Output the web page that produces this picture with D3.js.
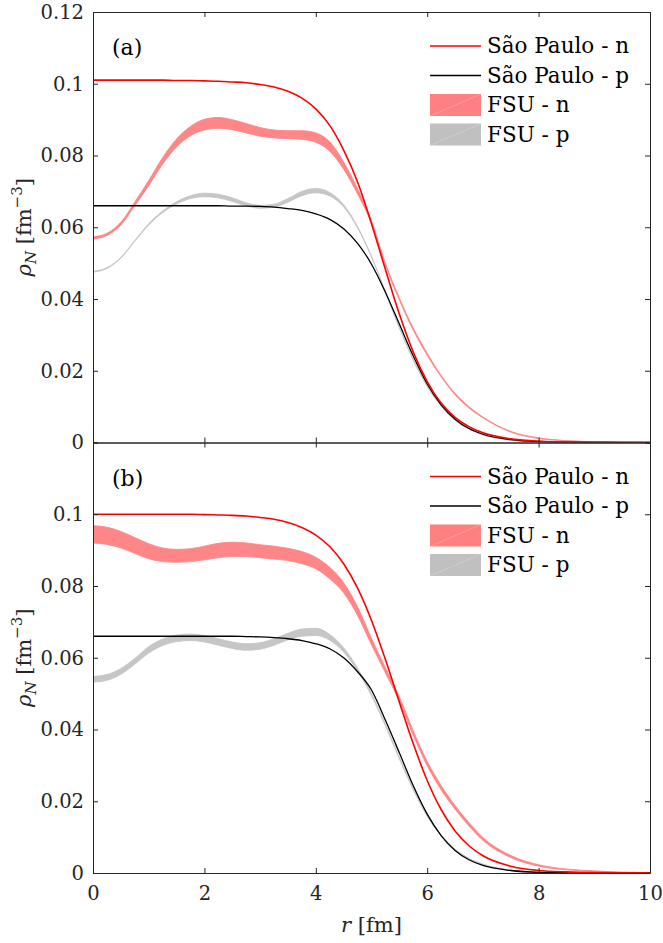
<!DOCTYPE html>
<html>
<head>
<meta charset="utf-8">
<script src="https://cdn.jsdelivr.net/npm/d3@7"></script>
<style>
  html, body { margin: 0; padding: 0; background: #fff; }
  svg { display: block; }
  svg text { font-family: 'DejaVu Serif'; }
</style>
</head>
<body>
<svg id="chart" width="663" height="943"></svg>
<script>
// radial grid (fm), shared by every series
var radii = [0, 0.25, 0.5, 0.75, 1, 1.25, 1.5, 1.75, 2, 2.25, 2.5, 2.75, 3, 3.25, 3.5, 3.75,
  4, 4.25, 4.5, 4.75, 5, 5.25, 5.5, 5.75, 6, 6.25, 6.5, 6.75, 7, 7.5, 8, 8.5, 9, 9.5, 10];

// panel (a)
var spNA = [0.1010, 0.1010, 0.1010, 0.1010, 0.1010, 0.1010, 0.1009, 0.1009, 0.1008, 0.1007, 0.1005, 0.1003,
  0.0998, 0.0991, 0.0979, 0.0960, 0.0930, 0.0884, 0.0815, 0.0726, 0.0610, 0.0482, 0.0358, 0.0252,
  0.0170, 0.0110, 0.0070, 0.0044, 0.0027, 0.0010, 0.0004, 0.0001, 0.00005, 0.00002, 0.00001];
var spPA = [0.0660, 0.0660, 0.0660, 0.0660, 0.0660, 0.0660, 0.0660, 0.0660, 0.0660, 0.0660, 0.0659, 0.0659,
  0.0658, 0.0656, 0.0652, 0.0647, 0.0637, 0.0622, 0.0596, 0.0555, 0.0497, 0.0419, 0.0330, 0.0241,
  0.0163, 0.0105, 0.0065, 0.0039, 0.0023, 0.0008, 0.00025, 0.0001, 0.00003, 0.00001, 0];
var fsuNA = [0.0570, 0.0580, 0.0610, 0.0665, 0.0723, 0.0785, 0.0835, 0.0868, 0.0886, 0.0891, 0.0886, 0.0876,
  0.0866, 0.0860, 0.0858, 0.0857, 0.0850, 0.0825, 0.0772, 0.0700, 0.0615, 0.0497, 0.0400, 0.0316,
  0.0246, 0.0185, 0.0135, 0.0098, 0.0070, 0.0030, 0.0012, 0.0005, 0.0002, 0.0001, 0.00005];
var fsuNErrA = [0.0003, 0.0003, 0.0004, 0.0005, 0.0007, 0.0009, 0.0011, 0.0013, 0.0015, 0.0015, 0.0014, 0.0013,
  0.0012, 0.0011, 0.0011, 0.0012, 0.0013, 0.0013, 0.0010, 0.0007, 0.0004, 0.0003, 0.0003, 0.0003,
  0.0003, 0.0002, 0.0002, 0.0002, 0.0001, 0.0001, 0.0001, 0, 0, 0, 0];
var fsuPA = [0.0476, 0.0486, 0.0515, 0.0562, 0.0608, 0.0643, 0.0668, 0.0684, 0.0690, 0.0687, 0.0677, 0.0664,
  0.0657, 0.0660, 0.0675, 0.0694, 0.0702, 0.0692, 0.0660, 0.0600, 0.0518, 0.0420, 0.0320, 0.0230,
  0.0157, 0.0102, 0.0063, 0.0038, 0.0022, 0.0007, 0.0002, 0.0001, 0.00003, 0.00001, 0];
var fsuPErrA = [0.0001, 0.0001, 0.0001, 0.0001, 0.0002, 0.0002, 0.0003, 0.0004, 0.0005, 0.0005, 0.0005, 0.0004,
  0.0004, 0.0004, 0.0005, 0.0006, 0.0006, 0.0005, 0.0003, 0.0002, 0.0001, 0.0001, 0.0001, 0.0001,
  0.0001, 0.0001, 0.0001, 0.0001, 0.0001, 0, 0, 0, 0, 0, 0];

// panel (b)
var spNB = [0.1000, 0.1000, 0.1000, 0.1000, 0.1000, 0.1000, 0.1000, 0.1000, 0.0999, 0.0998, 0.0997, 0.0995,
  0.0991, 0.0986, 0.0977, 0.0963, 0.0942, 0.0910, 0.0862, 0.0794, 0.0704, 0.0595, 0.0476, 0.0360,
  0.0258, 0.0177, 0.0117, 0.0076, 0.0048, 0.0019, 0.0007, 0.0003, 0.0001, 0.00004, 0.00002];
var spPB = [0.0660, 0.0660, 0.0660, 0.0660, 0.0660, 0.0660, 0.0660, 0.0660, 0.0660, 0.0660, 0.0660, 0.0659,
  0.0658, 0.0656, 0.0653, 0.0648, 0.0639, 0.0625, 0.0600, 0.0561, 0.0510, 0.0426, 0.0335, 0.0243,
  0.0164, 0.0104, 0.0063, 0.0037, 0.0021, 0.0007, 0.0002, 0.0001, 0.00002, 0.00001, 0];
var fsuNB = [0.0944, 0.0940, 0.0929, 0.0913, 0.0897, 0.0887, 0.0884, 0.0886, 0.0892, 0.0899, 0.0902, 0.0901,
  0.0897, 0.0893, 0.0888, 0.0879, 0.0864, 0.0836, 0.0795, 0.0730, 0.0645, 0.0565, 0.0485, 0.0390,
  0.0305, 0.0238, 0.0183, 0.0136, 0.0095, 0.0046, 0.0021, 0.0010, 0.0005, 0.0002, 0.0001];
var fsuNErrB = [0.0024, 0.0024, 0.0023, 0.0022, 0.0021, 0.0019, 0.0018, 0.0018, 0.0019, 0.0020, 0.0020, 0.0019,
  0.0018, 0.0018, 0.0017, 0.0017, 0.0016, 0.0016, 0.0014, 0.0012, 0.0009, 0.0007, 0.0006, 0.0006,
  0.0006, 0.0006, 0.0005, 0.0005, 0.0004, 0.0003, 0.0002, 0.0001, 0.0001, 0, 0];
var fsuPB = [0.0540, 0.0545, 0.0562, 0.0590, 0.0622, 0.0643, 0.0654, 0.0657, 0.0653, 0.0644, 0.0635, 0.0630,
  0.0633, 0.0644, 0.0659, 0.0670, 0.0672, 0.0657, 0.0622, 0.0567, 0.0497, 0.0412, 0.0320, 0.0234,
  0.0160, 0.0105, 0.0066, 0.0040, 0.0024, 0.0008, 0.00025, 0.0001, 0.00003, 0.00001, 0];
var fsuPErrB = [0.0008, 0.0008, 0.0008, 0.0008, 0.0009, 0.0009, 0.0009, 0.0009, 0.0009, 0.0009, 0.0009, 0.0009,
  0.0009, 0.0009, 0.0009, 0.0010, 0.0010, 0.0008, 0.0006, 0.0004, 0.0003, 0.0002, 0.0002, 0.0002,
  0.0002, 0.0001, 0.0001, 0.0001, 0.0001, 0, 0, 0, 0, 0, 0];

// ticks
var xTicks = [0, 2, 4, 6, 8, 10];
var yTicksA = [0, 0.02, 0.04, 0.06, 0.08, 0.1, 0.12];
var yTickLabelsA = ['0', '0.02', '0.04', '0.06', '0.08', '0.1', '0.12'];
var yTicksB = [0, 0.02, 0.04, 0.06, 0.08, 0.1, 0.12];
var yTickLabelsB = ['0', '0.02', '0.04', '0.06', '0.08', '0.1', ''];
var legendNames = ['São Paulo - n', 'São Paulo - p', 'FSU - n', 'FSU - p'];

var left = 93
  , right = 650
  , panelH = 430.5
  , serif = "'DejaVu Serif'"
  , axisColor = '#262626'
  , redLine = '#ff0000'
  , pinkBand = '#ff8080'
  , greyBand = '#c0c0c0'
  , svg = d3.select('#chart')
  , x = d3.scaleLinear().domain([0, 10]).range([left, right])
  , idx = d3.range(radii.length)
  , panels
  ;

panels = [
  { top: 12, tag: '(a)', spN: spNA, spP: spPA, fsuN: fsuNA, fsuNErr: fsuNErrA, fsuP: fsuPA, fsuPErr: fsuPErrA,
    yTicks: yTicksA, yLabels: yTickLabelsA, xLabels: false },
  { top: 12 + panelH, tag: '(b)', spN: spNB, spP: spPB, fsuN: fsuNB, fsuNErr: fsuNErrB, fsuP: fsuPB, fsuPErr: fsuPErrB,
    yTicks: yTicksB, yLabels: yTickLabelsB, xLabels: true }
];

function styleAxis(g) {
  g.attr('font-family', null).attr('font-size', null);
  g.selectAll('path.domain').attr('stroke', axisColor).attr('stroke-width', 1);
  g.selectAll('.tick line').attr('stroke', axisColor).attr('stroke-width', 1);
  g.selectAll('.tick text').attr('fill', axisColor)
    .style('font-family', serif).style('font-size', '19.5px');
}

panels.forEach(function (p, k) {
  var bottom = p.top + panelH
    , y = d3.scaleLinear().domain([0, 0.12]).range([bottom, p.top])
    , g = svg.append('g')
    , band
    , line
    , leg
    ;

  band = function (mid, err) {
    return d3.area()
      .x(function (i) { return x(radii[i]); })
      .y0(function (i) { return y(mid[i] - err[i]); })
      .y1(function (i) { return y(mid[i] + err[i]); })
      .curve(d3.curveMonotoneX)(idx);
  };
  line = function (vals) {
    return d3.line()
      .x(function (i) { return x(radii[i]); })
      .y(function (i) { return y(vals[i]); })
      .curve(d3.curveMonotoneX)(idx);
  };

  svg.append('clipPath').attr('id', 'clip' + k)
    .append('rect').attr('x', left).attr('y', p.top).attr('width', right - left).attr('height', panelH);

  var plot = g.append('g').attr('clip-path', 'url(#clip' + k + ')');

  plot.append('path').attr('d', band(p.fsuN, p.fsuNErr))
    .attr('fill', pinkBand).attr('stroke', pinkBand).attr('stroke-width', 0.9).attr('opacity', 0.95);
  plot.append('path').attr('d', band(p.fsuP, p.fsuPErr))
    .attr('fill', greyBand).attr('stroke', greyBand).attr('stroke-width', 0.9).attr('opacity', 0.9);
  plot.append('path').attr('d', line(p.spP))
    .attr('fill', 'none').attr('stroke', '#000').attr('stroke-width', 1.3);
  plot.append('path').attr('d', line(p.spN))
    .attr('fill', 'none').attr('stroke', redLine).attr('stroke-width', 1.6);

  // axes, ticks pointing inward on all four sides
  g.append('g').attr('transform', 'translate(' + left + ',0)')
    .call(d3.axisLeft(y).tickValues(p.yTicks).tickSizeInner(-5).tickSizeOuter(0).tickPadding(9)
      .tickFormat(function (d, i) { return p.yLabels[i]; }))
    .call(styleAxis);
  g.append('g').attr('transform', 'translate(' + right + ',0)')
    .call(d3.axisRight(y).tickValues(p.yTicks).tickSizeInner(-5).tickSizeOuter(0).tickFormat(''))
    .call(styleAxis);
  g.append('g').attr('transform', 'translate(0,' + p.top + ')')
    .call(d3.axisTop(x).tickValues(xTicks).tickSizeInner(-5).tickSizeOuter(0).tickFormat(''))
    .call(styleAxis);
  g.append('g').attr('transform', 'translate(0,' + bottom + ')')
    .call(d3.axisBottom(x).tickValues(xTicks).tickSizeInner(-5).tickSizeOuter(0).tickPadding(13)
      .tickFormat(p.xLabels ? d3.format('d') : ''))
    .call(styleAxis);

  // panel tag
  g.append('text').attr('x', 112).attr('y', p.top + 43)
    .attr('fill', '#000').style('font-size', '22px').text(p.tag);

  // y label
  var yl = g.append('text')
    .attr('transform', 'translate(31,' + (p.top + panelH / 2) + ') rotate(-90)')
    .attr('text-anchor', 'middle').attr('fill', axisColor).style('font-size', '21px');
  yl.append('tspan').style('font-style', 'italic').text('ρ');
  yl.append('tspan').style('font-style', 'italic').style('font-size', '15px').attr('dy', 5).text('N');
  yl.append('tspan').attr('dy', -5).text(' [fm');
  yl.append('tspan').style('font-size', '15px').attr('dy', -9).text('−3');
  yl.append('tspan').attr('dy', 9).text(']');

  // legend
  leg = g.append('g').style('font-size', '21.5px');
  legendNames.forEach(function (name, j) {
    var ry = p.top + 34 + j * 29.5;
    if (j < 2) {
      leg.append('line').attr('x1', 430).attr('x2', 481).attr('y1', ry).attr('y2', ry)
        .attr('stroke', j === 0 ? redLine : '#000').attr('stroke-width', j === 0 ? 1.6 : 1.3);
    } else {
      leg.append('rect').attr('x', 430).attr('y', ry - 11).attr('width', 51).attr('height', 22)
        .attr('fill', j === 2 ? pinkBand : greyBand);
      leg.append('line').attr('x1', 430).attr('y1', ry + 11).attr('x2', 481).attr('y2', ry - 11)
        .attr('stroke', '#fff').attr('stroke-opacity', 0.35).attr('stroke-width', 0.6);
    }
    leg.append('text').attr('x', 487).attr('y', ry + 7).attr('fill', '#000').text(name);
  });
});

// x label
var xl = svg.append('text').attr('x', (left + right) / 2).attr('y', 932)
  .attr('text-anchor', 'middle').attr('fill', axisColor).style('font-size', '21px');
xl.append('tspan').style('font-style', 'italic').text('r');
xl.append('tspan').text(' [fm]');
</script>
</body>
</html>
